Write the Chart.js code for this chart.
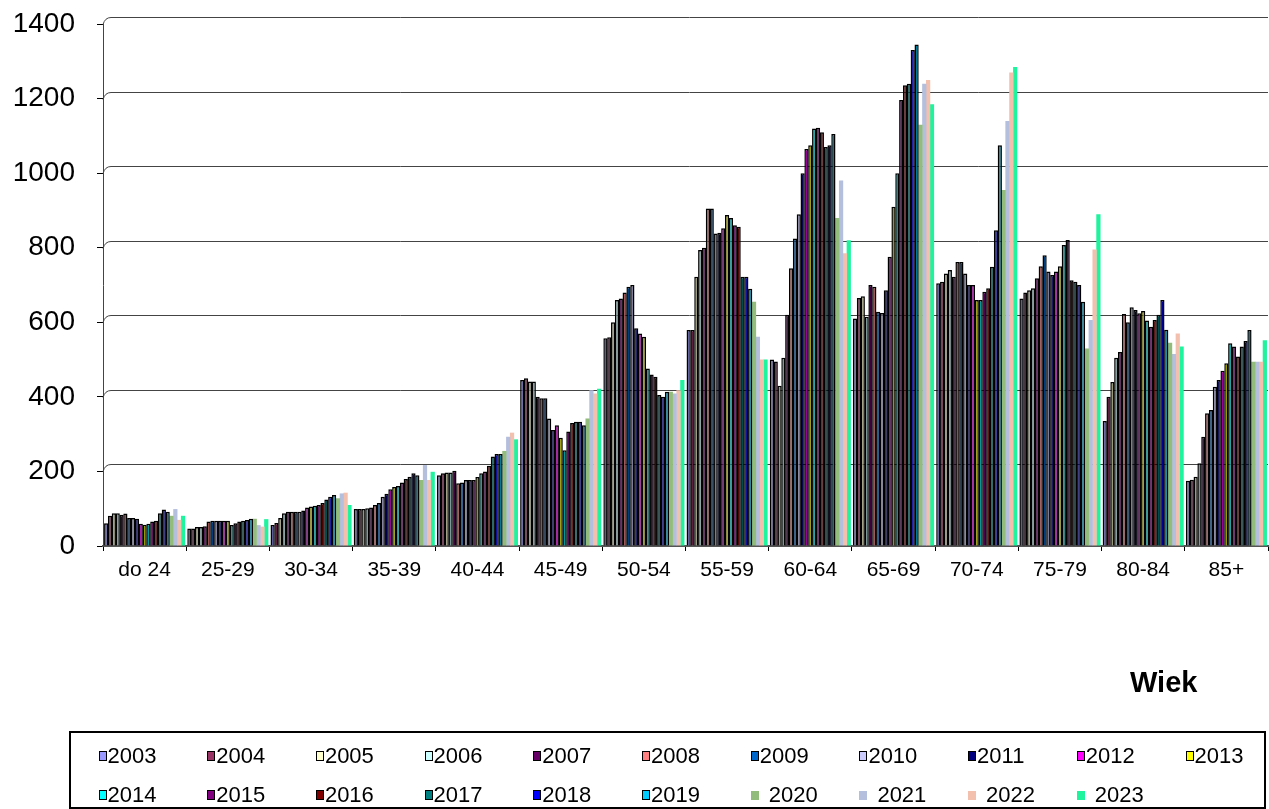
<!DOCTYPE html>
<html>
<head>
<meta charset="utf-8">
<script src="https://cdn.jsdelivr.net/npm/chart.js@4"></script>
<style>
body { margin: 0; background: #fff; font-family: 'Liberation Sans', Arial, sans-serif; }
#wrap { position: relative; width: 1269px; height: 809px; overflow: hidden; }
#chart { position: absolute; left: 0; top: 0; }
#title { position: absolute; left: 1130px; top: 668px; font-weight: bold; font-size: 29px; line-height: 29px; }
#legend { position: absolute; left: 69px; top: 731px; width: 1193px; height: 74px; border: 2px solid #000; }
.item { position: absolute; font-size: 22px; line-height: 22px; display: flex; align-items: center; white-space: nowrap; }
.key { display: inline-block; width: 6px; height: 8px; border: 1.5px solid #000; margin-right: 1px; }
.key.flat { width: 8px; height: 9px; border: none; margin-right: 10px; }
</style>
</head>
<body>
<div id="wrap">
  <canvas id="chart" width="1269" height="809"></canvas>
  <div id="title">Wiek</div>
  <div id="legend"></div>
</div>
<script>
const categories = ['do 24', '25-29', '30-34', '35-39', '40-44', '45-49', '50-54', '55-59', '60-64', '65-69', '70-74', '75-79', '80-84', '85+']
const years = ['2003', '2004', '2005', '2006', '2007', '2008', '2009', '2010', '2011', '2012', '2013',
    '2014', '2015', '2016', '2017', '2018', '2019', '2020', '2021', '2022', '2023']
const colors = ['#9999FF', '#993366', '#FFFFCC', '#CCFFFF', '#660066', '#FF8080', '#0066CC', '#CCCCFF', '#000080', '#FF00FF', '#FFFF00',
    '#00FFFF', '#800080', '#800000', '#008080', '#0000FF', '#00CCFF', '#92BC7C', '#B4BEDD', '#F4C0AE', '#1EF39E']

// values per age group, one per year 2003..2023
const do24 = [61, 81, 88, 88, 84, 87, 75, 75, 73, 60, 57, 60, 66, 68, 88, 98, 92, 81, 99, 70, 81]
const a25_29 = [47, 47, 51, 51, 53, 66, 68, 68, 68, 68, 68, 56, 61, 66, 68, 70, 73, 73, 56, 52, 72]
const a30_34 = [56, 62, 75, 88, 92, 92, 92, 92, 95, 103, 106, 108, 110, 115, 125, 132, 137, 128, 141, 143, 110]
const a35_39 = [99, 99, 99, 101, 103, 110, 115, 132, 140, 152, 158, 161, 170, 180, 186, 195, 190, 177, 217, 177, 199]
const a40_44 = [190, 195, 197, 197, 202, 168, 170, 177, 177, 177, 185, 195, 200, 215, 240, 247, 247, 255, 293, 304, 286]
const a45_49 = [445, 450, 441, 441, 400, 396, 396, 342, 311, 324, 290, 257, 307, 330, 333, 333, 324, 342, 418, 409, 422]
const a50_54 = [557, 560, 600, 660, 664, 680, 695, 700, 584, 570, 561, 476, 460, 454, 405, 400, 414, 414, 409, 418, 445]
const a55_59 = [579, 579, 722, 794, 800, 905, 905, 838, 840, 852, 888, 880, 860, 856, 722, 722, 690, 655, 561, 500, 500]
const a60_64 = [500, 495, 430, 505, 620, 745, 825, 890, 1000, 1065, 1075, 1120, 1122, 1110, 1070, 1075, 1105, 880, 980, 785, 820]
const a65_69 = [610, 665, 670, 615, 700, 695, 628, 625, 686, 776, 910, 1000, 1196, 1236, 1240, 1330, 1345, 1130, 1240, 1250, 1185]
const a70_74 = [705, 709, 731, 740, 722, 762, 762, 731, 700, 700, 660, 660, 682, 691, 749, 847, 1075, 955, 1140, 1270, 1285]
const a75_79 = [664, 680, 686, 691, 718, 750, 780, 736, 727, 736, 750, 807, 821, 713, 709, 700, 655, 530, 606, 795, 890]
const a80_84 = [335, 400, 440, 505, 520, 622, 600, 640, 633, 624, 630, 605, 588, 606, 620, 660, 580, 545, 515, 570, 535]
const a85plus = [175, 178, 186, 222, 293, 356, 365, 427, 445, 470, 490, 544, 535, 508, 535, 550, 579, 494, 494, 494, 552]

const yTicks = [0, 200, 400, 600, 800, 1000, 1200, 1400]

const groups = [do24, a25_29, a30_34, a35_39, a40_44, a45_49, a50_54, a55_59, a60_64, a65_69, a70_74, a75_79, a80_84, a85plus]
const outlined = 17 // 2003..2019 have black edges, 2020..2023 none
const family = "'Liberation Sans', Arial, sans-serif"

// the outlined bars look shaded in the original (3d sides), so darken their fill a bit
function shade(hex, f) {
    const n = parseInt(hex.slice(1), 16)
    const r = Math.round((n >> 16) * f)
    const g = Math.round(((n >> 8) & 255) * f)
    const b = Math.round((n & 255) * f)
    return `rgb(${r}, ${g}, ${b})`
}

const datasets = years.map((year, i) => ({
    label: year,
    data: groups.map(g => g[i]),
    backgroundColor: i < outlined ? shade(colors[i], 0.6) : colors[i],
    borderColor: i < outlined ? '#000' : 'rgba(0,0,0,0)',
    borderWidth: i < outlined ? 1.5 : 0,
    borderSkipped: 'bottom',
    categoryPercentage: 0.97,
    barPercentage: 1.1 // slight overlap so no white seams show between the thin bars
}))

// back-wall grid lines, set a bit up and right like the 3d original
const wallGrid = {
    id: 'wallGrid',
    beforeDatasetsDraw(chart) {
        const { ctx, chartArea, scales: { y } } = chart
        ctx.save()
        ctx.strokeStyle = '#444'
        ctx.lineWidth = 1
        y.ticks.forEach(t => {
            if (t.value === 0) return
            const py = Math.round(y.getPixelForValue(t.value)) + 0.5
            ctx.beginPath()
            ctx.moveTo(chartArea.left, py)
            ctx.quadraticCurveTo(chartArea.left + 2, py - 7, chartArea.left + 8, py - 7)
            ctx.lineTo(chartArea.right, py - 7)
            ctx.stroke()
        })
        ctx.restore()
    }
}

new Chart(document.getElementById('chart'), {
    type: 'bar',
    data: { labels: categories, datasets },
    options: {
        responsive: false,
        animation: false,
        layout: { padding: { top: 24, right: 1, left: 0, bottom: 0 } },
        plugins: { legend: { display: false }, tooltip: { enabled: false } },
        scales: {
            x: {
                grid: { drawOnChartArea: false, tickLength: 5, color: '#000', offset: true },
                border: { color: '#555', width: 2 },
                ticks: { color: '#000', font: { size: 21, family }, padding: 7, maxRotation: 0, autoSkip: false },
                afterFit: s => { s.height = 263 }
            },
            y: {
                min: 0,
                max: 1400,
                afterBuildTicks: s => { s.ticks = yTicks.map(v => ({ value: v })) },
                ticks: { color: '#000', font: { size: 28, family }, padding: 22, callback: v => String(v) },
                grid: { drawOnChartArea: false, tickLength: 6, color: '#000' },
                border: { color: '#444' },
                afterFit: s => { s.width = 103; s.paddingTop = 0; s.paddingBottom = 0 }
            }
        }
    },
    plugins: [wallGrid]
})

// legend in a framed box, 11 columns
const legend = document.getElementById('legend')
years.forEach((year, i) => {
    const item = document.createElement('div')
    item.className = 'item'
    item.style.left = (27.5 + 108.7 * (i % 11)) + 'px'
    item.style.top = (i < 11 ? 12 : 51) + 'px'
    const key = document.createElement('span')
    key.className = i < outlined ? 'key' : 'key flat'
    key.style.background = colors[i]
    item.appendChild(key)
    item.appendChild(document.createTextNode(year))
    legend.appendChild(item)
})
</script>
</body>
</html>
